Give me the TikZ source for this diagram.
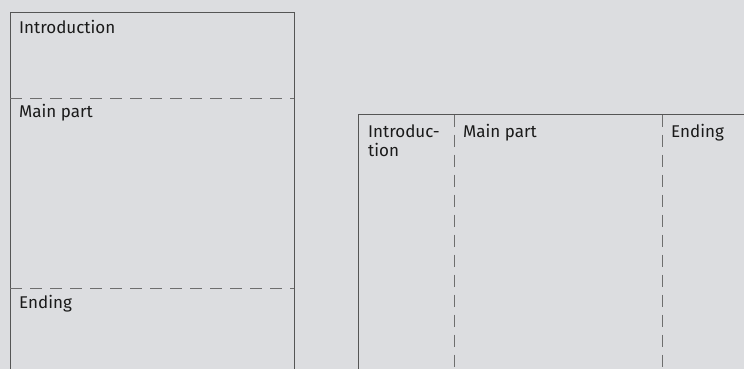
\documentclass[tikz,border=0pt]{standalone}
\usepackage{fontspec}
\setmainfont{Fira Sans}
\definecolor{bg}{HTML}{DCDDE0}
\definecolor{frame}{HTML}{555555}
\definecolor{ink}{HTML}{1A1A1A}
\begin{document}
\begin{tikzpicture}[x=1pt,y=-1pt,
  frameline/.style={draw=frame,line width=1pt},
  splitline/.style={draw=frame!85,line width=1pt,dash pattern=on 12pt off 8pt},
  lbl/.style={anchor=base west,inner sep=0pt,text=ink,font=\fontsize{17}{20}\selectfont}]
  \fill[bg] (0,0) rectangle (744,369);
  \useasboundingbox (0,0) rectangle (744,369);
  \begin{scope}
    \clip (0,0) rectangle (744,369);
    % vertical layout: three stacked parts
    \draw[frameline] (10,380) -- (10,12.5) -- (294,12.5) -- (294,380);
    \draw[splitline] (10,98) -- (294,98);
    \draw[splitline] (10,288) -- (294,288);
    % horizontal layout: three side-by-side parts
    \draw[frameline] (358,380) -- (358,114.5) -- (760,114.5);
    \draw[splitline] (454,114.5) -- (454,380);
    \draw[splitline] (662,114.5) -- (662,380);
  \end{scope}
  \node[lbl] (v1) at (19,34) {Introduction};
  \node[lbl] (v2) at (19,117) {Main part};
  \node[lbl] (v3) at (19,308) {Ending};
  \node[lbl] (h1a) at (368,137) {Introduc-};
  \node[lbl] (h1b) at (368,156) {tion};
  \node[lbl] (h2) at (463,137) {Main part};
  \node[lbl] (h3) at (671,137) {Ending};
\end{tikzpicture}
\end{document}
